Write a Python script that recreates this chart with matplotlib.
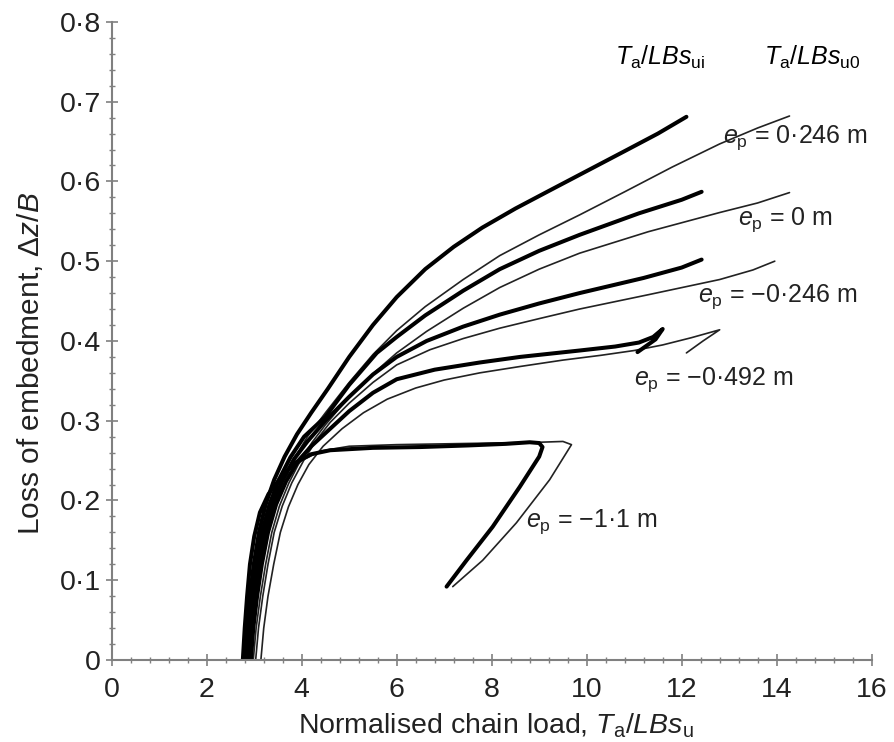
import matplotlib
matplotlib.use("Agg")
import matplotlib.pyplot as plt
from matplotlib.ticker import MultipleLocator

plt.rcParams['font.family'] = ['Liberation Sans', 'DejaVu Sans']
plt.rcParams['mathtext.fontset'] = 'custom'
plt.rcParams['mathtext.rm'] = 'Liberation Sans'
plt.rcParams['mathtext.it'] = 'Liberation Sans:italic'

# ---- data (chain load vs loss of embedment) ----
# e_p = 0.246 m
x_ui_p246 = [2.80, 2.85, 2.91, 2.99, 3.10, 3.24, 3.42, 3.64, 3.90, 4.20, 4.55, 5.0, 5.5, 6.0, 6.6, 7.2, 7.8,
             8.5, 9.2, 10.0, 10.8, 11.5, 12.1]
y_ui_p246 = [0, 0.04, 0.08, 0.12, 0.16, 0.195, 0.226, 0.255, 0.283, 0.31, 0.34, 0.38, 0.42, 0.455, 0.49, 0.518,
             0.542, 0.566, 0.588, 0.613, 0.638, 0.66, 0.681]
x_u0_p246 = [2.93, 2.99, 3.07, 3.16, 3.28, 3.43, 3.62, 3.85, 4.12, 4.5, 5.0, 5.5, 6.0, 6.6, 7.4, 8.17, 9.0,
             9.85, 10.8, 11.8, 12.8, 13.6, 14.27]
y_u0_p246 = [0, 0.04, 0.08, 0.12, 0.16, 0.195, 0.225, 0.253, 0.28, 0.31, 0.348, 0.383, 0.413, 0.443, 0.477,
             0.507, 0.533, 0.558, 0.587, 0.618, 0.647, 0.667, 0.682]

# e_p = 0 m
x_ui_0 = [2.84, 2.89, 2.96, 3.05, 3.17, 3.32, 3.52, 3.76, 4.05, 4.5, 5.0, 5.58, 6.0, 6.6, 7.4, 8.17, 9.0,
          9.85, 11.1, 12.0, 12.42]
y_ui_0 = [0, 0.04, 0.08, 0.12, 0.16, 0.195, 0.226, 0.254, 0.28, 0.305, 0.345, 0.385, 0.405, 0.432, 0.463,
          0.49, 0.513, 0.533, 0.56, 0.577, 0.587]
x_u0_0 = [2.98, 3.04, 3.13, 3.24, 3.37, 3.53, 3.73, 3.97, 4.22, 4.5, 5.0, 5.58, 6.0, 6.63, 7.4, 8.17, 9.0,
          9.85, 11.3, 12.8, 13.6, 14.27]
y_u0_0 = [0, 0.04, 0.08, 0.12, 0.16, 0.193, 0.222, 0.25, 0.273, 0.295, 0.33, 0.363, 0.385, 0.412, 0.441,
          0.467, 0.49, 0.51, 0.537, 0.561, 0.573, 0.586]

# e_p = -0.246 m
x_ui_m246 = [2.88, 2.93, 3.01, 3.11, 3.23, 3.39, 3.59, 3.84, 4.12, 4.5, 5.0, 5.5, 6.0, 6.63, 7.4, 8.17, 9.0,
             9.85, 11.2, 12.0, 12.42]
y_ui_m246 = [0, 0.04, 0.08, 0.12, 0.16, 0.195, 0.225, 0.252, 0.274, 0.30, 0.33, 0.358, 0.38, 0.40, 0.418,
             0.433, 0.447, 0.46, 0.479, 0.492, 0.502]
x_u0_m246 = [3.03, 3.09, 3.18, 3.29, 3.42, 3.59, 3.79, 4.04, 4.3, 4.6, 5.0, 5.5, 6.0, 6.7, 7.4, 8.17, 9.0,
             9.85, 11.3, 12.8, 13.5, 13.96]
y_u0_m246 = [0, 0.04, 0.08, 0.12, 0.16, 0.193, 0.222, 0.25, 0.275, 0.298, 0.322, 0.348, 0.37, 0.389, 0.403,
             0.416, 0.428, 0.44, 0.458, 0.477, 0.489, 0.50]

# e_p = -0.492 m
x_ui_m492 = [2.93, 2.98, 3.06, 3.16, 3.29, 3.46, 3.67, 3.93, 4.2, 4.6, 5.0, 5.5, 6.0, 6.8, 7.75, 8.6, 9.85,
             10.6, 11.1, 11.4, 11.6, 11.45, 11.07]
y_ui_m492 = [0, 0.04, 0.08, 0.12, 0.16, 0.195, 0.224, 0.25, 0.268, 0.29, 0.312, 0.335, 0.352, 0.364, 0.373,
             0.38, 0.388, 0.393, 0.398, 0.405, 0.415, 0.402, 0.386]
x_u0_m492 = [3.14, 3.20, 3.29, 3.41, 3.55, 3.72, 3.92, 4.15, 4.45, 4.85, 5.3, 5.8, 6.4, 7.0, 7.75, 8.6, 9.5,
             10.3, 11.0, 11.6, 12.2, 12.8, 12.45, 12.1]
y_u0_m492 = [0, 0.04, 0.08, 0.12, 0.16, 0.192, 0.22, 0.245, 0.268, 0.29, 0.31, 0.327, 0.341, 0.351, 0.36,
             0.368, 0.376, 0.382, 0.388, 0.395, 0.404, 0.414, 0.40, 0.385]

# e_p = -1.1 m
x_ui_m11 = [2.76, 2.80, 2.85, 2.91, 3.0, 3.12, 3.30, 3.55, 3.85, 4.2, 4.6, 5.5, 6.5, 7.5, 8.3, 8.8, 9.0,
            9.07, 9.0, 8.59, 8.02, 7.47, 7.05]
y_ui_m11 = [0, 0.04, 0.08, 0.12, 0.155, 0.185, 0.208, 0.228, 0.247, 0.258, 0.263, 0.266, 0.267, 0.269,
            0.271, 0.273, 0.272, 0.267, 0.255, 0.217, 0.167, 0.125, 0.092]
x_u0_m11 = [2.86, 2.90, 2.95, 3.02, 3.12, 3.26, 3.45, 3.70, 4.0, 4.4, 5.0, 6.0, 7.0, 8.0, 9.0, 9.5, 9.68,
            9.22, 8.52, 7.81, 7.18]
y_u0_m11 = [0, 0.04, 0.08, 0.12, 0.155, 0.185, 0.21, 0.232, 0.25, 0.262, 0.268, 0.27, 0.271, 0.272, 0.273,
            0.274, 0.27, 0.226, 0.172, 0.125, 0.092]

ui_curves = [(x_ui_p246, y_ui_p246), (x_ui_0, y_ui_0), (x_ui_m246, y_ui_m246),
             (x_ui_m492, y_ui_m492), (x_ui_m11, y_ui_m11)]
u0_curves = [(x_u0_p246, y_u0_p246), (x_u0_0, y_u0_0), (x_u0_m246, y_u0_m246),
             (x_u0_m492, y_u0_m492), (x_u0_m11, y_u0_m11)]

ep_labels = ['0·246 m', '0 m', '−0·246 m', '−0·492 m', '−1·1 m']
ep_label_pos = [(12.88, 0.655), (13.18, 0.552), (12.34, 0.456), (10.99, 0.352), (8.72, 0.173)]

x_ticks = [0, 2, 4, 6, 8, 10, 12, 14, 16]
x_tick_labels = ['0', '2', '4', '6', '8', '10', '12', '14', '16']
y_ticks = [0, 0.1, 0.2, 0.3, 0.4, 0.5, 0.6, 0.7, 0.8]
y_tick_labels = ['0', '0·1', '0·2', '0·3', '0·4', '0·5', '0·6', '0·7', '0·8']

fig = plt.figure(figsize=(8.94, 7.42), dpi=100)
ax = fig.add_axes([0.125, 0.1105, 0.85, 0.86])

for xs, ys in u0_curves:
    ax.plot(xs, ys, color='#222222', lw=1.2, solid_joinstyle='round', solid_capstyle='round')
for xs, ys in ui_curves:
    ax.plot(xs, ys, color='black', lw=2.9, solid_joinstyle='round', solid_capstyle='round')

for lab, (lx, ly) in zip(ep_labels, ep_label_pos):
    ax.text(lx, ly, r'$e_{\mathrm{p}}$ = ' + lab, fontsize=18, va='center', ha='left', color='#222222')

ax.text(11.54, 0.755, r'$T_{\mathrm{a}}/LBs_{\mathrm{ui}}$', fontsize=18, ha='center', va='center')
ax.text(14.74, 0.755, r'$T_{\mathrm{a}}/LBs_{\mathrm{u0}}$', fontsize=18, ha='center', va='center')

ax.set_xlim(0, 16)
ax.set_ylim(0, 0.8)
ax.set_xticks(x_ticks)
ax.set_xticklabels(x_tick_labels)
ax.set_yticks(y_ticks)
ax.set_yticklabels(y_tick_labels)
ax.xaxis.set_minor_locator(MultipleLocator(0.4))
ax.yaxis.set_minor_locator(MultipleLocator(0.02))

for side in ['top', 'right']:
    ax.spines[side].set_visible(False)
for side in ['left', 'bottom']:
    ax.spines[side].set_color('#808080')
    ax.spines[side].set_linewidth(1.5)

ax.tick_params(which='major', direction='inout', length=8, width=1.2, color='#808080',
               labelsize=20.5, labelcolor='#222222')
ax.tick_params(which='minor', direction='inout', length=5, width=1.0, color='#808080')
ax.tick_params(axis='x', pad=8)
ax.tick_params(axis='y', pad=4)

ax.set_xlabel(r'Normalised chain load, $T_{\mathrm{a}}/LBs_{\mathrm{u}}$', fontsize=20.5, color='#222222')
ax.set_ylabel(r'Loss of embedment, Δ$z/B$', fontsize=21.5, color='#222222')
ax.xaxis.set_label_coords(0.505, -0.08)
ax.yaxis.set_label_coords(-0.088, 0.465)

fig.savefig('out.png', dpi=100)
